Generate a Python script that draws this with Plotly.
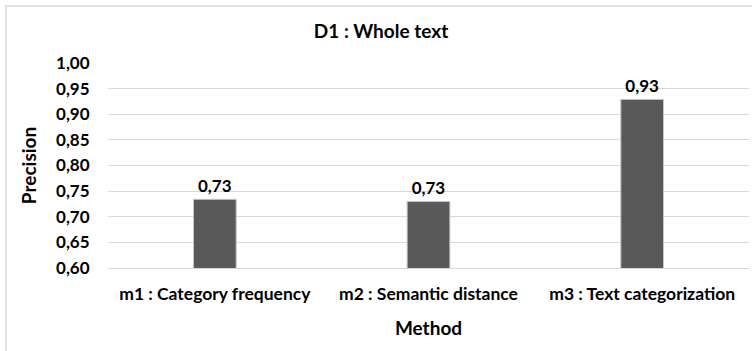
import plotly.graph_objects as go

methods = ["m1 : Category frequency", "m2 : Semantic distance", "m3 : Text categorization"]
precision = [0.734, 0.730, 0.929]
labels = ["0,73", "0,73", "0,93"]
yticks = [0.60, 0.65, 0.70, 0.75, 0.80, 0.85, 0.90, 0.95, 1.00]
ytick_text = ["0,60", "0,65", "0,70", "0,75", "0,80", "0,85", "0,90", "0,95", "1,00"]

FONT = "Lato"
fig = go.Figure(go.Bar(
    x=methods, y=precision, text=labels, textposition="outside",
    textfont=dict(family=FONT, size=17, color="#000000"),
    texttemplate="<b>%{text}</b>",
    marker=dict(color="#595959", line=dict(color="#c8c8c8", width=1)),
    cliponaxis=False, width=0.2,
))

fig.update_layout(
    width=752, height=351,
    margin=dict(l=108, r=3, t=63, b=83),
    paper_bgcolor="white", plot_bgcolor="white",
    font=dict(family=FONT, size=17, color="#000000"),
    title=dict(text="<b>D1 : Whole text</b>", x=381 / 752, xref="container", xanchor="center",
               y=1 - 31 / 351, yref="container", yanchor="middle",
               font=dict(family=FONT, size=19, color="#000000")),
    showlegend=False,
    shapes=[dict(type="rect", xref="paper", yref="paper",
                 x0=(6 - 108) / 641, x1=1.2, y0=-0.6, y1=1 + (63 - 6) / 205,
                 line=dict(color="#d9d9d9", width=1.5), fillcolor="rgba(0,0,0,0)", layer="below")],
)
fig.update_xaxes(
    tickfont=dict(family=FONT, size=17.5, color="#000000"),
    tickprefix="<b>", ticksuffix="</b>",
    ticks="outside", ticklen=10, tickcolor="rgba(0,0,0,0)",
    showline=True, linecolor="#d9d9d9", linewidth=1,
    title=dict(text="<b>Method</b>", font=dict(family=FONT, size=19, color="#000000"), standoff=18),
)
fig.update_yaxes(
    range=[0.6, 1.0], tickvals=yticks, ticktext=["<b>%s</b>" % t for t in ytick_text],
    tickfont=dict(family=FONT, size=17, color="#000000"),
    ticks="outside", ticklen=14, tickcolor="rgba(0,0,0,0)",
    showgrid=True, gridcolor="#d9d9d9", gridwidth=1, zeroline=False,
    title=dict(text="<b>Precision</b>", font=dict(family=FONT, size=19, color="#000000"), standoff=14),
)

fig.write_html("out.html")
